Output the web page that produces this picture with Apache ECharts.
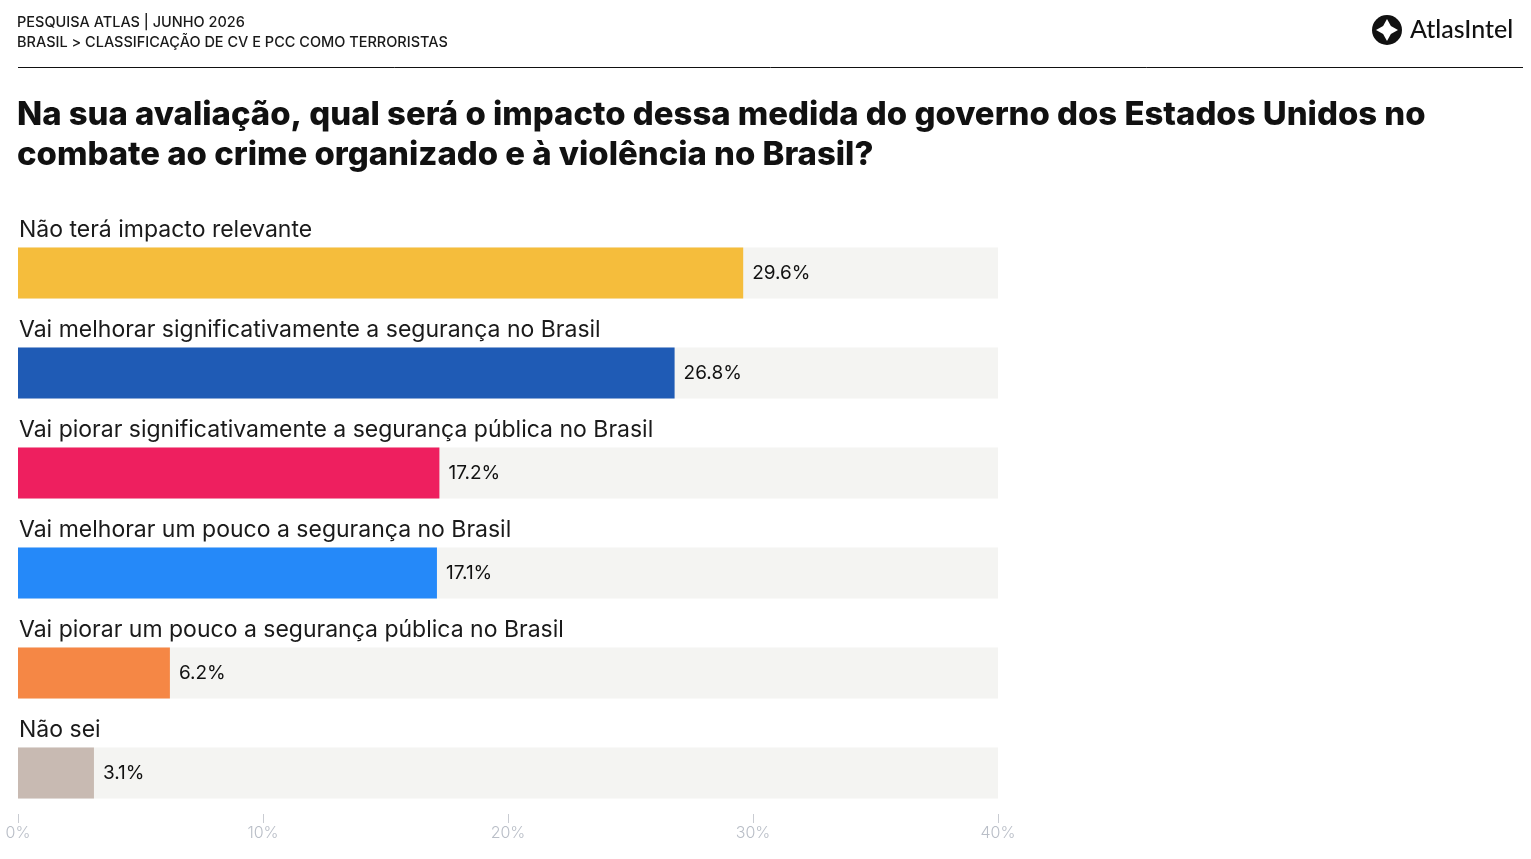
<!DOCTYPE html>
<html>
<head>
<meta charset="utf-8">
<script src="https://cdn.jsdelivr.net/npm/echarts@6/dist/echarts.min.js"></script>
<style>
  html, body { margin: 0; padding: 0; background: #ffffff; }
  #chart { width: 1531px; height: 859px; }
</style>
</head>
<body>
<div id="chart"></div>
<script>
const categories = [
  'Não terá impacto relevante',
  'Vai melhorar significativamente a segurança no Brasil',
  'Vai piorar significativamente a segurança pública no Brasil',
  'Vai melhorar um pouco a segurança no Brasil',
  'Vai piorar um pouco a segurança pública no Brasil',
  'Não sei'
]
const values = [29.6, 26.8, 17.2, 17.1, 6.2, 3.1]
const colors = ['#f5bd3c', '#1f5bb5', '#ee1f5f', '#2589f9', '#f58745', '#c8bab2']
const xTicks = [0, 10, 20, 30, 40]

const font = 'Inter, "Noto Sans", sans-serif'

var chart = echarts.init(document.getElementById('chart'), null, { renderer: 'canvas' })

// concave four-point star for the logo
var star = []
var cx = 1387, cy = 30
for (var k = 0; k < 4; k++) {
  var a = k * Math.PI / 2 - Math.PI / 2
  star.push([cx + 11 * Math.cos(a), cy + 11 * Math.sin(a)])
  var b = a + Math.PI / 4
  star.push([cx + 5.5 * Math.cos(b), cy + 5.5 * Math.sin(b)])
}

var option = {
  animation: false,
  backgroundColor: '#ffffff',
  textStyle: { fontFamily: font },
  title: [
    {
      text: 'PESQUISA ATLAS | JUNHO 2026\nBRASIL > CLASSIFICAÇÃO DE CV E PCC COMO TERRORISTAS',
      left: 17, top: 13, padding: 0,
      textStyle: { fontSize: 14.5, fontWeight: 500, color: '#1a1a1a', lineHeight: 20, fontFamily: font }
    },
    {
      text: 'Na sua avaliação, qual será o impacto dessa medida do governo dos Estados Unidos no\ncombate ao crime organizado e à violência no Brasil?',
      left: 17, top: 95, padding: 0,
      textStyle: { fontSize: 32.9, fontWeight: 800, color: '#111111', lineHeight: 40, fontFamily: font }
    }
  ],
  graphic: [
    {
      type: 'line',
      shape: { x1: 18, y1: 67.5, x2: 1523, y2: 67.5 },
      style: { stroke: '#111111', lineWidth: 1 }
    },
    {
      type: 'circle',
      shape: { cx: cx, cy: cy, r: 15 },
      style: { fill: '#111111' }
    },
    {
      type: 'polygon',
      shape: { points: star },
      style: { fill: '#ffffff' }
    },
    {
      type: 'text',
      x: 1410, y: 17,
      style: { text: 'AtlasIntel', fontSize: 25, fontWeight: 500, fill: '#111111', fontFamily: 'Lato, ' + font }
    }
  ],
  grid: { left: 18, right: 533, top: 223, height: 600, containLabel: false },
  xAxis: {
    type: 'value',
    min: 0, max: 40, interval: 10,
    axisLine: { show: false },
    splitLine: { show: false },
    axisTick: { show: true, inside: true, length: 9, lineStyle: { color: '#c9ccd2' } },
    axisLabel: {
      margin: 2,
      color: '#b9bec7',
      fontSize: 16,
      fontWeight: 300,
      formatter: function (v) { return xTicks.indexOf(v) >= 0 ? v + '%' : '' }
    }
  },
  yAxis: {
    type: 'category',
    inverse: true,
    data: categories,
    axisLine: { show: false },
    axisTick: { show: false },
    axisLabel: {
      inside: true,
      margin: 1,
      color: '#1a1a1a',
      fontSize: 23,
      verticalAlign: 'bottom',
      lineHeight: 86
    },
    z: 10
  },
  series: [
    {
      type: 'bar',
      barWidth: 51,
      data: values.map(function (v, i) {
        return { value: v, itemStyle: { color: colors[i] } }
      }),
      showBackground: true,
      backgroundStyle: { color: '#f4f4f2' },
      label: {
        show: true,
        position: 'right',
        distance: 9,
        color: '#111111',
        fontSize: 19,
        formatter: function (p) { return p.value.toFixed(1) + '%' }
      }
    }
  ]
}

chart.setOption(option)
</script>
</body>
</html>
